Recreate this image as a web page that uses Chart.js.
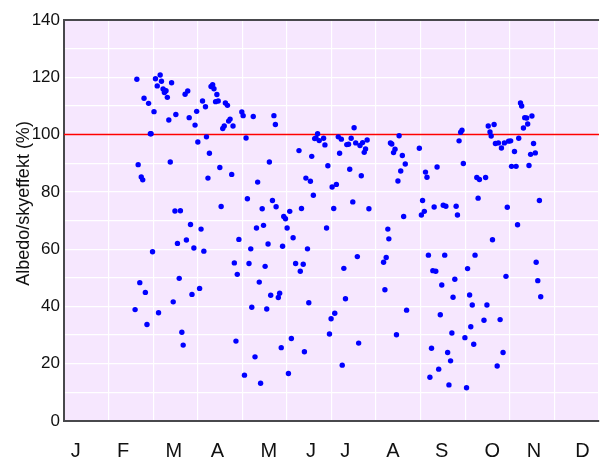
<!DOCTYPE html>
<html><head><meta charset="utf-8">
<script src="https://cdn.jsdelivr.net/npm/chart.js@4"></script>
<style>html,body{margin:0;padding:0;background:#fff;overflow:hidden}#wrap{width:608px;height:461px;position:relative}</style>
</head><body><div id="wrap"><canvas id="c" width="608" height="461"></canvas></div>
<script>
// Day of year (0-365) and albedo/sky effect (%)
const days = [49.7,62.4,65.6,66.5,63.6,73.4,67.6,69.0,69.6,68.5,54.6,57.7,70.5,61.4,76.3,71.5,82.6,84.4,85.4,89.4,
90.5,94.5,96.5,100.3,101.4,102.3,104.3,103.4,105.2,110.1,111.5,91.3,97.2,99.2,58.9,59.4,50.6,52.7,53.7,72.5,
106.3,98.2,114.4,121.3,122.2,129.1,113.3,112.3,109.3,108.3,115.3,124.2,143.2,144.2,140.1,132.1,125.1,142.2,144.7,135.2,
107.2,75.7,79.4,86.3,93.5,131.3,136.1,83.5,119.3,77.4,88.6,95.4,60.4,127.4,139.2,116.2,126.2,137.2,118.2,51.7,
55.5,78.6,92.5,87.3,74.5,133.2,141.0,48.5,64.5,56.6,128.1,138.3,80.4,81.3,117.3,130.3,123.1,134.1,149.1,149.9,
151.1,154.0,152.2,156.3,160.3,162.0,165.0,168.1,170.1,166.1,169.0,171.0,171.9,173.0,174.1,177.1,178.0,180.0,179.1,182.9,
185.8,184.0,187.1,189.2,188.0,192.9,194.1,194.9,195.9,197.9,199.0,201.9,203.7,206.8,205.7,204.8,202.8,197.0,208.0,200.1,
222.7,223.6,225.8,224.8,228.6,230.8,232.8,229.7,227.8,231.7,220.9,221.6,219.8,146.2,147.1,158.0,163.2,161.2,167.0,155.1,
148.2,164.0,153.1,190.9,192.0,184.7,182.2,181.1,201.0,189.8,218.0,218.9,233.7,226.8,242.4,246.6,247.6,254.5,244.6,243.8,
245.8,252.5,258.7,260.5,267.5,268.4,269.5,270.6,271.5,272.4,248.6,259.7,280.4,281.6,283.4,287.6,282.5,289.4,293.4,290.6,
291.4,294.3,296.3,298.4,300.4,303.3,304.7,292.3,302.4,307.3,305.3,308.4,309.4,310.2,311.4,312.2,313.4,314.3,315.6,316.3,
319.2,320.3,318.3,321.5,317.2,324.3,251.6,253.6,275.3,322.1,323.2,325.2,301.5,266.6,257.7,265.4,276.7,278.5,288.5,256.7,
286.5,297.5,277.5,264.6,273.5,279.5,250.7,261.7,263.7,299.5,255.6,249.6,262.6,274.6,295.5];
const values = [119.3,119.5,120.8,118.6,117.0,118.1,115.9,115.1,115.3,114.7,112.7,110.9,113.0,108.0,107.0,105.1,114.1,115.2,105.9,103.3,
108.1,111.7,109.7,116.8,117.4,116.0,114.0,111.5,111.7,111.0,110.2,97.4,99.2,93.5,100.3,100.3,89.5,85.2,84.2,90.4,
88.5,84.8,86.1,107.9,106.6,106.3,105.4,104.7,103.0,102.1,103.0,98.8,106.6,103.5,90.4,83.4,77.6,77.0,74.8,74.1,
74.9,73.3,73.4,68.6,67.0,67.4,68.3,63.2,63.4,62.0,60.4,59.3,59.1,60.1,61.8,55.2,55.0,54.0,51.2,48.3,
44.9,49.8,46.3,44.2,41.6,48.5,43.9,38.9,37.8,33.7,39.7,39.1,31.0,26.5,27.9,22.4,16.0,13.2,61.0,71.4,
70.6,73.2,67.4,64.0,94.4,74.2,84.8,83.7,78.8,60.1,92.4,98.6,98.8,100.3,97.9,98.7,96.4,89.1,67.4,81.7,
82.6,74.2,99.2,98.4,93.5,96.5,96.6,87.9,98.7,102.4,97.1,96.2,97.2,98.1,95.0,93.8,85.6,76.5,74.1,57.4,
97.1,96.7,94.9,93.7,99.6,92.7,89.7,87.3,83.8,71.4,67.0,63.6,57.1,43.1,44.6,55.0,54.7,52.3,41.3,28.8,
25.6,24.2,16.6,53.3,42.7,37.6,35.7,30.4,27.2,19.5,55.4,45.8,38.7,30.1,95.2,86.9,85.1,88.7,77.0,71.9,
73.2,74.7,75.3,75.0,75.0,71.9,97.8,100.8,101.5,89.9,57.9,57.9,57.9,85.0,84.3,85.0,77.8,103.0,103.5,100.9,
99.5,96.9,97.1,95.3,97.1,97.7,97.8,63.3,74.6,94.1,88.9,88.9,68.5,98.7,111.0,110.0,102.3,105.9,105.8,103.7,
106.5,96.9,93.1,93.6,89.2,77.0,52.5,52.3,53.2,55.4,49.0,43.4,50.5,49.5,47.5,43.2,44.0,40.5,40.5,37.1,
35.2,35.4,32.9,30.7,29.1,26.8,25.4,23.9,21.0,23.9,18.1,15.3,12.6,11.6,19.2];
const referenceLevel = 100;
const dayRange = [0, 365];
const valueRange = [0, 140];
const monthLabels = ['J','F','M','A','M','J','J','A','S','O','N','D'];
const monthLabelDays = [8.1,40.3,75.0,104.7,139.7,168.5,191.8,224.4,257.7,292.1,320.6,353.7];
const monthGridDays = [0,30.4,60.8,91.3,121.7,152.1,182.5,212.9,243.3,273.8,304.2,334.6,365];
const yTitle = 'Albedo/skyeffekt (%)';

const FONT = '"Liberation Sans", Arial, Helvetica, sans-serif';
const points = days.map((d, i) => ({x: d, y: values[i]}));
const refLine = dayRange.map(d => ({x: d, y: referenceLevel}));

const framePlugin = {
  id: 'frame',
  beforeDraw(chart) {
    const {ctx, chartArea: a} = chart;
    ctx.save();
    ctx.fillStyle = '#f6e7fe';
    ctx.fillRect(a.left, a.top, a.right - a.left, a.bottom - a.top);
    ctx.restore();
  },
  afterDraw(chart) {
    const {ctx, chartArea: a} = chart;
    ctx.save();
    ctx.strokeStyle = '#48484c';
    ctx.lineWidth = 2;
    ctx.beginPath();
    ctx.moveTo(a.left - 1, a.top);
    ctx.lineTo(a.right, a.top);
    ctx.stroke();
    ctx.translate(28.5, 203.5);
    ctx.rotate(-Math.PI / 2);
    ctx.fillStyle = '#111';
    ctx.font = '18px ' + FONT;
    ctx.textAlign = 'center';
    ctx.textBaseline = 'alphabetic';
    ctx.fillText(yTitle, 0, 0);
    ctx.restore();
  }
};

new Chart(document.getElementById('c'), {
  data: {
    datasets: [
      {type: 'scatter', data: points, backgroundColor: '#0000ff', borderWidth: 0,
       pointRadius: 2.7, pointHoverRadius: 2.7, xAxisID: 'x', yAxisID: 'y'},
      {type: 'line', data: refLine, borderColor: '#ff0000', borderWidth: 1.5,
       pointRadius: 0, fill: false, xAxisID: 'x', yAxisID: 'y'}
    ]
  },
  options: {
    responsive: false, animation: false, devicePixelRatio: 1,
    layout: {padding: {top: 20, left: 0, right: 0, bottom: 0}},
    plugins: {legend: {display: false}, tooltip: {enabled: false}},
    events: [],
    scales: {
      x: {
        type: 'linear', position: 'bottom', weight: 0,
        min: dayRange[0], max: dayRange[1],
        afterBuildTicks: s => { s.ticks = monthGridDays.map(v => ({value: v})); },
        ticks: {display: false},
        grid: {color: '#ffffff', lineWidth: 1.2, drawTicks: false},
        border: {display: true, color: '#48484c', width: 2},
        afterFit: s => { s.height = 0; }
      },
      xl: {
        type: 'linear', position: 'bottom', weight: 1,
        min: dayRange[0], max: dayRange[1],
        afterBuildTicks: s => { s.ticks = monthLabelDays.map(v => ({value: v})); },
        ticks: {callback: (v, i) => monthLabels[i], font: {size: 20, family: FONT},
                color: '#111', padding: 18, maxRotation: 0, autoSkip: false},
        grid: {display: false, drawTicks: false},
        border: {display: false},
        afterFit: s => { s.height = 40; }
      },
      y: {
        type: 'linear', position: 'left',
        min: valueRange[0], max: valueRange[1],
        ticks: {stepSize: 10, autoSkip: false, callback: v => (v % 20 === 0 ? String(v) : ''),
                font: {size: 17, family: FONT}, color: '#111', padding: 4},
        grid: {color: '#ffffff', lineWidth: 1.2, drawTicks: false},
        border: {display: true, color: '#48484c', width: 2},
        afterFit: s => { s.width = 64; }
      }
    }
  },
  plugins: [framePlugin]
});
</script>
</body></html>
